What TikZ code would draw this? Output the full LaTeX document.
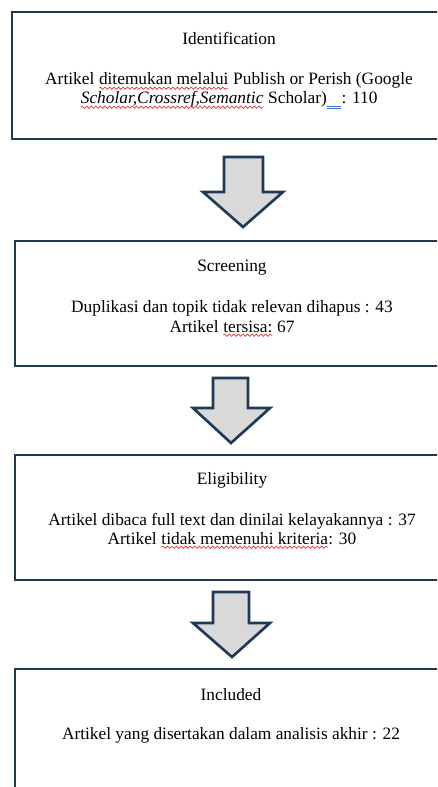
\documentclass[tikz,border=0pt]{standalone}
\usepackage{fontspec}
\setmainfont{Liberation Serif}
\usepackage{xcolor}
\usetikzlibrary{decorations.pathmorphing}

\definecolor{boxline}{HTML}{203A56}
\definecolor{arrowgray}{HTML}{D9D9D9}
\definecolor{typored}{HTML}{E8393A}
\definecolor{gramblue}{HTML}{3A6FD8}

% red wavy mark under a word
\newcommand{\typo}[1]{\tikz[baseline=(w.base)]{%
    \node[inner sep=0pt, outer sep=0pt] (w) {#1};
    \draw[typored, line width=0.55pt, decorate,
      decoration={snake, amplitude=0.85pt, segment length=3.4pt}]
      ([yshift=-2.4pt]w.base west) -- ([yshift=-2.4pt]w.base east);}}
% blue double mark under a space
\newcommand{\gramspace}{\tikz[baseline=0pt]{%
    \path (0,0) -- (11pt,0);
    \draw[gramblue, line width=0.4pt] (0.3pt,-2pt) -- (10.8pt,-2pt);
    \draw[gramblue, line width=0.4pt] (0.3pt,-3.4pt) -- (10.8pt,-3.4pt);}}

\tikzset{
  stagebox/.style={draw=boxline, line width=1.5pt, anchor=north west,
    minimum width=345pt, inner sep=0pt},
  stagetext/.style={anchor=base, inner sep=0pt, font=\fontsize{13}{15}\selectfont},
  blockarrow/.style={draw=boxline, fill=arrowgray, line width=2pt, line join=miter}
}

\begin{document}
\begin{tikzpicture}[x=0.75pt, y=-0.75pt]
    \useasboundingbox (0,0) rectangle (437,787);
    \clip (0,0) rectangle (437,787);

    % Identification
    \node[stagebox, minimum height=95.25pt] (ident) at (11,11) {};
    \node[stagetext] (identTitle) at (229,45) {Identification};
    \node[stagetext] (identLineA) at (229,85)
      {Artikel \typo{ditemukan melalui} Publish or Perish (Google};
    \node[stagetext] (identLineB) at (229,104)
      {\typo{\textit{Scholar,Crossref,Semantic}} Scholar)\gramspace: 110};

    % arrow 1
    \draw[blockarrow] (224,157) -- (263,157) -- (263,192) -- (283,192)
      -- (243,227) -- (203,192) -- (224,192) -- cycle;

    % Screening
    \node[stagebox, minimum height=93.75pt] (screen) at (14,240) {};
    \node[stagetext] (screenTitle) at (232,272) {Screening};
    \node[stagetext] (screenLineA) at (232,313)
      {Duplikasi dan topik tidak relevan dihapus : 43};
    \node[stagetext] (screenLineB) at (232,332)
      {Artikel \typo{tersisa:} 67};

    % arrow 2
    \draw[blockarrow] (213,378) -- (248,378) -- (248,408) -- (270,408)
      -- (231,443) -- (193,408) -- (213,408) -- cycle;

    % Eligibility
    \node[stagebox, minimum height=93.75pt] (elig) at (14,454) {};
    \node[stagetext] (eligTitle) at (232,484) {Eligibility};
    \node[stagetext] (eligLineA) at (232,525)
      {Artikel dibaca full text dan dinilai kelayakannya : 37};
    \node[stagetext] (eligLineB) at (232,544)
      {Artikel \typo{tidak memenuhi kriteria}: 30};

    % arrow 3
    \draw[blockarrow] (213,592) -- (249,592) -- (249,623) -- (270,623)
      -- (232,657) -- (193,623) -- (213,623) -- cycle;

    % Included
    \node[stagebox, minimum height=100pt] (incl) at (14,668) {};
    \node[stagetext] (inclTitle) at (231,700) {Included};
    \node[stagetext] (inclLineA) at (231,739)
      {Artikel yang disertakan dalam analisis akhir : 22};
\end{tikzpicture}
\end{document}
